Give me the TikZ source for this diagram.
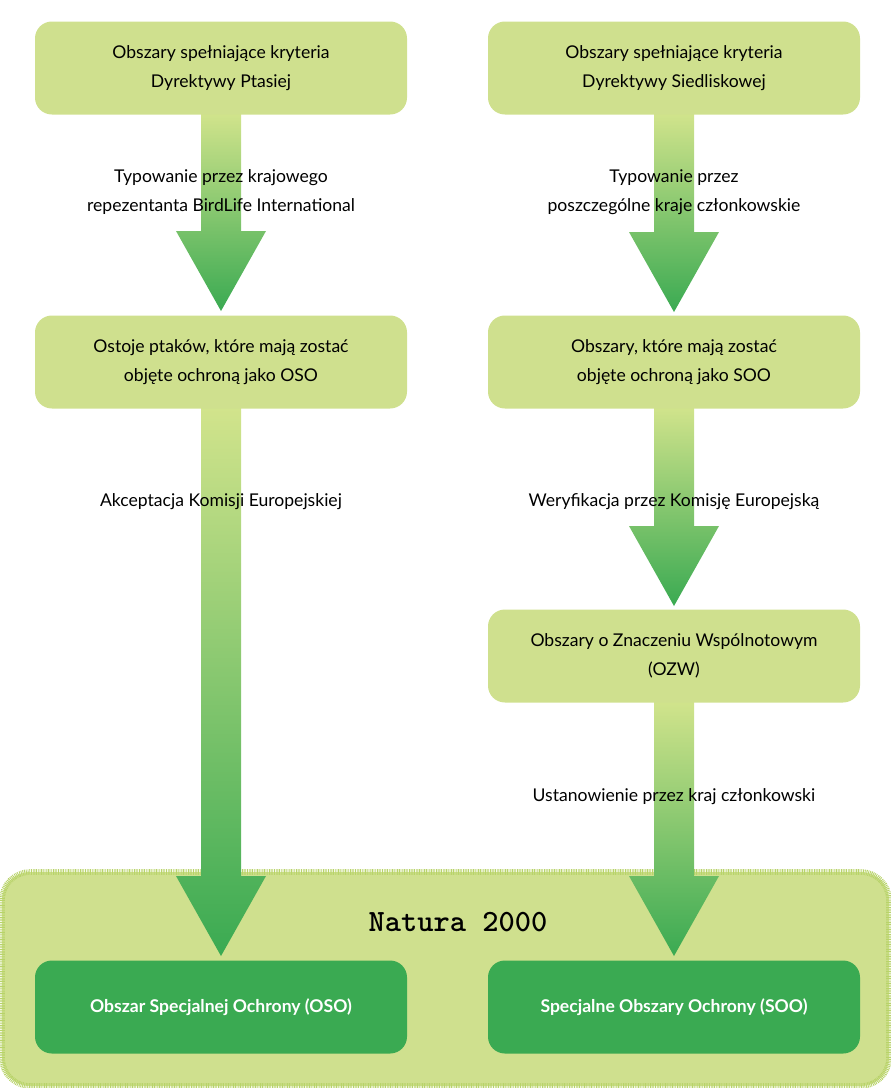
\documentclass[tikz,border=0pt]{standalone}
\usepackage{fontspec}
\setmainfont{Lato}
\usetikzlibrary{positioning}
\definecolor{boxlight}{HTML}{CFE08E}
\definecolor{boxdark}{HTML}{3AAA52}
\definecolor{fuzz}{HTML}{B8D36A}
\definecolor{arrtop}{HTML}{D2E48C}
\definecolor{arrbot}{HTML}{3AAA52}
\tikzset{
  stage/.style={fill=boxlight, rounded corners=12pt, minimum width=372*0.025cm,
    minimum height=93*0.025cm, align=center, font=\fontsize{12.5}{21}\selectfont},
  result/.style={stage, fill=boxdark, text=white, font=\fontsize{12.5}{21}\selectfont\bfseries},
  steplabel/.style={align=center, font=\fontsize{12.5}{21}\selectfont}
}
\newcommand{\bigarrow}[3]{% x, top y, bottom y
  \shade[top color=arrtop, bottom color=arrbot]
    (#1-20,#2) -- (#1+20,#2) -- (#1+20,#3-80) -- (#1+45,#3-80) -- (#1,#3)
    -- (#1-45,#3-80) -- (#1-20,#3-80) -- cycle;}
\begin{document}
\begin{tikzpicture}[x=0.025cm, y=-0.025cm]
  \useasboundingbox (0,0) rectangle (891,1088);

  % Natura 2000 frame
  \fill[boxlight, rounded corners=20pt] (2,872) rectangle (889,1086);
  \draw[fuzz, line width=4pt, dash pattern=on 0.6pt off 0.6pt, rounded corners=20pt]
    (2,872) rectangle (889,1086);
  \node (natura) at (458,922) {\fontsize{22}{24}\selectfont\ttfamily\bfseries Natura 2000};

  % arrows
  \bigarrow{221}{112}{311}
  \bigarrow{221}{406}{956}
  \bigarrow{674}{112}{312}
  \bigarrow{674}{406}{606}
  \bigarrow{674}{700}{956}

  % boxes
  \node[stage] (birds) at (221,68) {Obszary spełniające kryteria\\Dyrektywy Ptasiej};
  \node[stage] (habitats) at (674,68) {Obszary spełniające kryteria\\Dyrektywy Siedliskowej};
  \node[stage] (ostoje) at (221,362) {Ostoje ptaków, które mają zostać\\objęte ochroną jako OSO};
  \node[stage] (obszary) at (674,362) {Obszary, które mają zostać\\objęte ochroną jako SOO};
  \node[stage] (ozw) at (674,656) {Obszary o Znaczeniu Wspólnotowym\\(OZW)};
  \node[result] (oso) at (221,1007) {Obszar Specjalnej Ochrony (OSO)};
  \node[result] (soo) at (674,1007) {Specjalne Obszary Ochrony (SOO)};

  % labels
  \node[steplabel] (typ1) at (221,192) {Typowanie przez krajowego\\repezentanta BirdLife International};
  \node[steplabel] (typ2) at (674,192) {Typowanie przez\\poszczególne kraje członkowskie};
  \node[steplabel] (akc) at (221,502) {Akceptacja Komisji Europejskiej};
  \node[steplabel] (wer) at (674,502) {Weryfikacja przez Komisję Europejską};
  \node[steplabel] (ust) at (674,797) {Ustanowienie przez kraj członkowski};
\end{tikzpicture}
\end{document}
